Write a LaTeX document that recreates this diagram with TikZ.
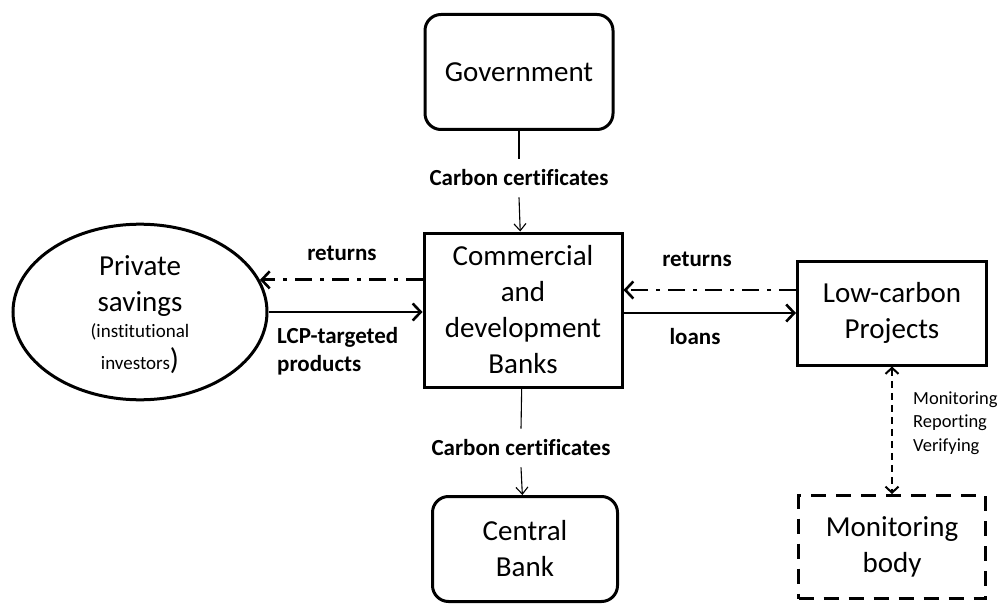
\documentclass[tikz,border=0pt]{standalone}
\usepackage{fontspec}
\setmainfont[Ligatures=NoCommon]{Carlito}
\usetikzlibrary{arrows.meta,shapes.geometric}
\definecolor{linie}{HTML}{000000}

\begin{document}
\begin{tikzpicture}[x=1pt, y=-1pt,
    box/.style={draw=linie, line width=3pt, align=center, inner sep=0pt,
        font=\fontsize{29}{36}\selectfont},
    roundbox/.style={box, rounded corners=16pt},
    lbl/.style={font=\fontsize{23}{28}\selectfont\bfseries, inner sep=0pt},
    flow/.style={line width=2.8pt, -{Straight Barb[length=8pt, width=17pt, line width=2.6pt]}},
    ret/.style={flow, dash pattern=on 17pt off 8pt on 4pt off 8pt},
    cert/.style={line width=1.1pt},
    mrv/.style={line width=2.2pt, dash pattern=on 7pt off 5pt,
        {Straight Barb[length=6pt, width=13pt, line width=2pt]}-{Straight Barb[length=6pt, width=13pt, line width=2pt]}}
]
\useasboundingbox (0,0) rectangle (1003,604);

% Knoten
\node[roundbox, minimum width=188pt, minimum height=115pt] (gov) at (519,72) {Government};
\node[box, minimum width=198pt, minimum height=154pt] (bank) at (523,310)
    {Commercial\\and\\development\\Banks};
\node[roundbox, minimum width=185pt, minimum height=105pt] (cb) at (525,549) {Central\\Bank};
\node[box, ellipse, minimum width=254pt, minimum height=161pt] (ps) at (140,312)
    {\rule{0pt}{26pt}Private\\savings\\[-10pt]{\fontsize{19}{23}\selectfont(institutional}\\[-4pt]{\fontsize{19}{23}\selectfont investors}{\fontsize{30}{36}\selectfont)}};
\node[box, minimum width=189pt, minimum height=104pt] (lcp) at (892,313) {Low-carbon\\Projects};
\node[box, dash pattern=on 15pt off 10pt, minimum width=187pt, minimum height=103pt]
    (mb) at (892,547) {Monitoring\\body};

% Beschriftungen
\node[lbl] (cc1) at (519,178) {Carbon certificates};
\node[lbl] (cc2) at (521,448) {Carbon certificates};
\node[lbl] (retl) at (342,253) {returns};
\node[lbl] (retr) at (697,259) {returns};
\node[lbl] (loans) at (695,337) {loans};
\node[lbl, align=left, anchor=west] (lcpt) at (277,351) {LCP-targeted\\products};
\node[font=\fontsize{18.5}{23.5}\selectfont, align=left, anchor=west, inner sep=0pt]
    (mrvl) at (913,423) {Monitoring\\Reporting\\Verifying};
\coordinate (retin) at ([yshift=23pt]lcp.west);

% Verbindungen
\draw[cert] (gov) -- ([yshift=11pt]cc1.north);
\draw[cert, -{Straight Barb[length=7pt, width=12pt, line width=1.1pt]}] ([yshift=-11pt]cc1.south) -- (bank);
\draw[cert] (bank) -- ([yshift=11pt]cc2.north);
\draw[cert, -{Straight Barb[length=7pt, width=12pt, line width=1.1pt]}] ([yshift=-11pt]cc2.south) -- (cb);
\draw[ret] (bank.west |- ps.15) -- (ps.15);
\draw[flow] (ps.east) -- (bank.west |- ps.east);
\draw[ret] (retin) -- (bank.east |- retin);
\draw[flow] (bank.east |- lcp.west) -- (lcp.west);
\draw[mrv] (lcp) -- (mb);
\end{tikzpicture}
\end{document}
